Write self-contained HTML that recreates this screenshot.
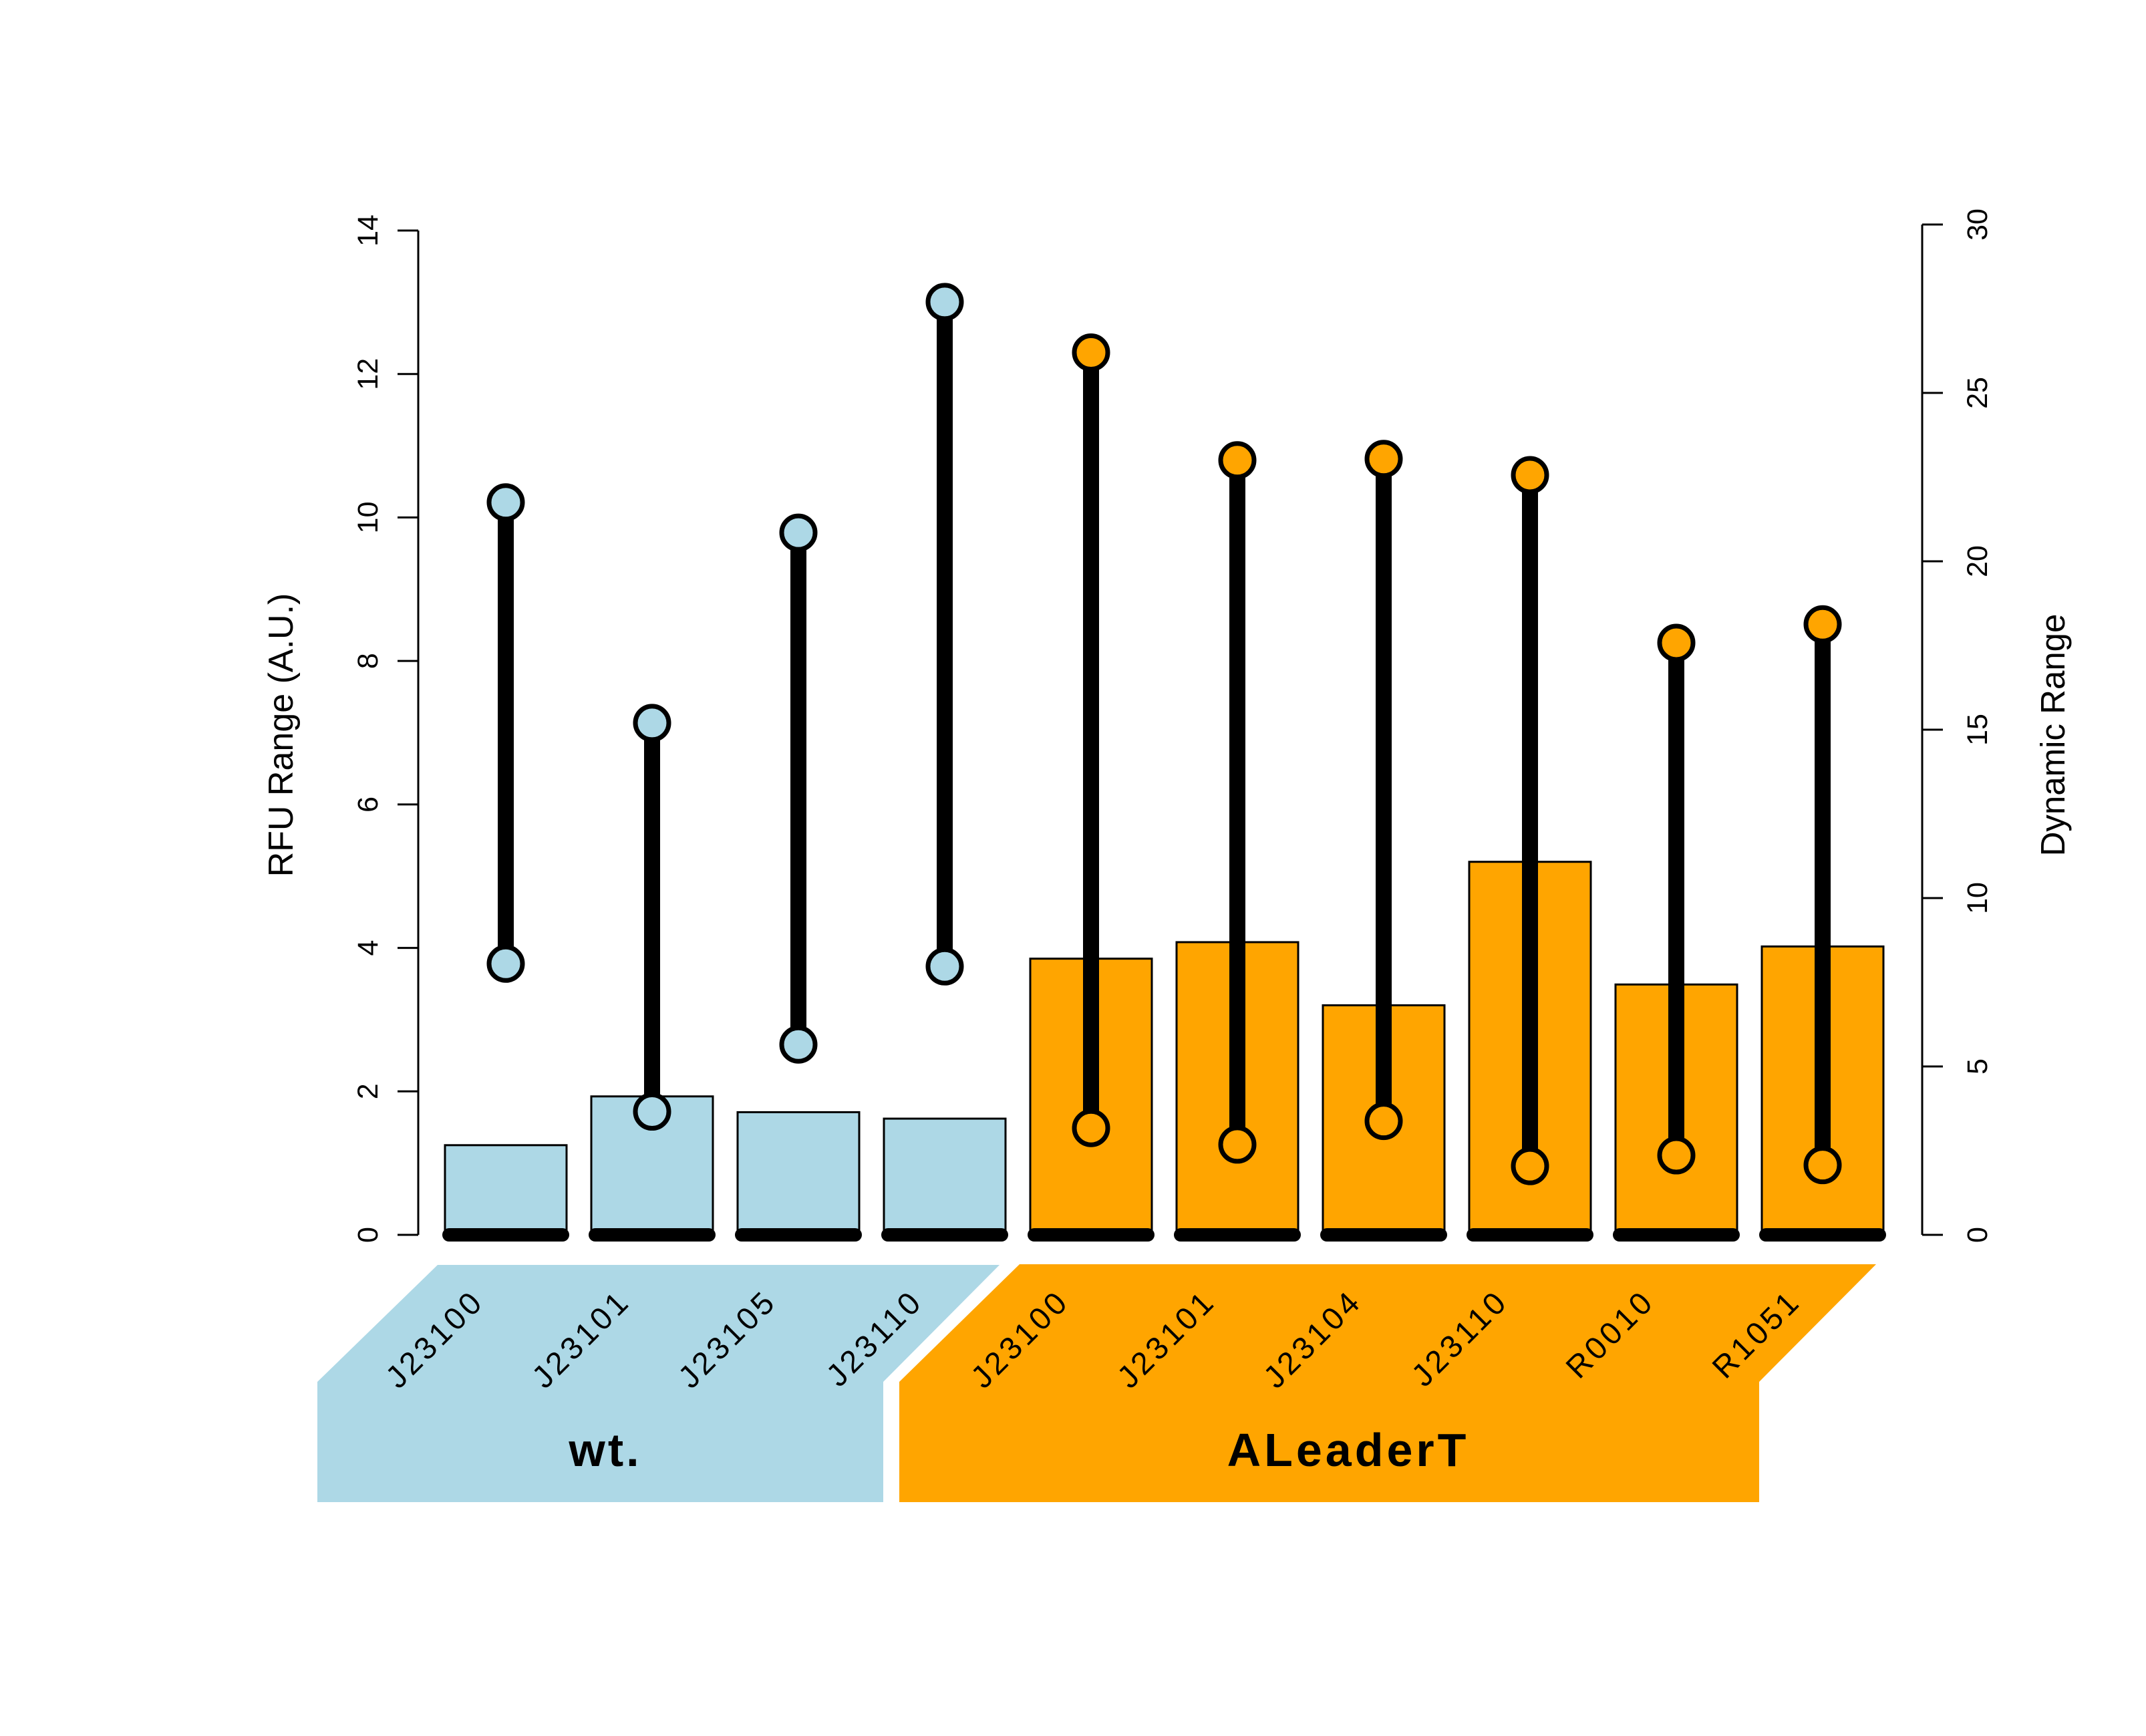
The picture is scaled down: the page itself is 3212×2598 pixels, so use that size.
<!DOCTYPE html>
<html><head><meta charset="utf-8"><style>
html,body{margin:0;padding:0;background:#fff;}
svg{display:block;font-family:"Liberation Sans",Arial,sans-serif;}
</style></head><body>
<svg id="chart" width="3212" height="2598" viewBox="0 0 3212 2598" xmlns="http://www.w3.org/2000/svg">
<rect width="3212" height="2598" fill="#fff"/>
<g id="groups">
  <polygon points="655,1893 1496,1893 1322,2068 1322,2248 475,2248 475,2068" fill="#ADD8E6"/>
  <polygon points="1526,1892 2808,1892 2633,2068 2633,2248 1346,2248 1346,2068" fill="#FFA500"/>
  <text x="906" y="2194" font-size="70" font-weight="bold" text-anchor="middle" letter-spacing="4">wt.</text>
  <text x="2018" y="2194" font-size="70" font-weight="bold" text-anchor="middle" letter-spacing="5">ALeaderT</text>
</g>
<g id="bars"></g>
<g id="ranges"></g>
<g id="axes"></g>
</svg>
<script>
const categories = ["J23100","J23101","J23105","J23110","J23100","J23101","J23104","J23110","R0010","R1051"];
const groups = ["wt","wt","wt","wt","ALeaderT","ALeaderT","ALeaderT","ALeaderT","ALeaderT","ALeaderT"];
const rfuRange = [1.25,1.93,1.71,1.62,3.85,4.08,3.2,5.2,3.49,4.02];
const drHigh = [21.75,15.2,20.85,27.7,26.2,23.0,23.04,22.56,17.58,18.13];
const drLow = [8.05,3.66,5.65,7.97,3.17,2.68,3.38,2.04,2.36,2.07];
const leftTicks = [0,2,4,6,8,10,12,14];
const rightTicks = [0,5,10,15,20,25,30];

const NS = "http://www.w3.org/2000/svg";
const colors = {wt:"#ADD8E6", ALeaderT:"#FFA500"};
function yL(v){ return 1848 - v * (1848-345)/14; }
function yR(v){ return 1848 - v * (1848-336)/30; }
function xLeft(i){ return 666 + i*219; }
const barW = 182;
function mk(tag, attrs, parent){
  const e = document.createElementNS(NS, tag);
  for (const k in attrs) e.setAttribute(k, attrs[k]);
  parent.appendChild(e);
  return e;
}
const gb = document.getElementById('bars');
const gr = document.getElementById('ranges');
const ga = document.getElementById('axes');

categories.forEach((c, i) => {
  const x = xLeft(i), cx = x + barW/2;
  const r = mk('rect', {x:x, y:yL(rfuRange[i]), width:barW, height:1848-yL(rfuRange[i]), fill:colors[groups[i]], stroke:'#000', 'stroke-width':3}, gb);
  
  
  const base = mk('line', {x1:x+6, x2:x+barW-6, y1:1848, y2:1848, stroke:'#000', 'stroke-width':20, 'stroke-linecap':'round'}, gb);
  
  
  const lx = cx - 30, ly = 1950;
  const t = mk('text', {x:lx, y:ly, 'font-size':47, 'text-anchor':'end', transform:'rotate(-45 '+lx+' '+ly+')', 'letter-spacing':5}, gb);
  t.textContent = c;
  
  
  const ln = mk('line', {x1:cx, x2:cx, y1:yR(drLow[i]), y2:yR(drHigh[i]), stroke:'#000', 'stroke-width':24}, gr);
  
  
  const p1 = mk('circle', {cx:cx, cy:yR(drHigh[i]), r:25, fill:colors[groups[i]], stroke:'#000', 'stroke-width':7}, gr);
  
  
  const p2 = mk('circle', {cx:cx, cy:yR(drLow[i]), r:25, fill:colors[groups[i]], stroke:'#000', 'stroke-width':7}, gr);
  
  
});

const la = mk('line', {x1:626, x2:626, y1:yL(0), y2:yL(14), stroke:'#000', 'stroke-width':3}, ga);


leftTicks.forEach(v => {
  const tk = mk('line', {x1:595, x2:626, y1:yL(v), y2:yL(v), stroke:'#000', 'stroke-width':3}, ga);
  
  
  const tl = mk('text', {x:565, y:yL(v), 'font-size':43, 'text-anchor':'middle', transform:'rotate(-90 565 '+yL(v)+')'}, ga);
  tl.textContent = v;
  
  
});
const ra = mk('line', {x1:2877, x2:2877, y1:yR(0), y2:yR(30), stroke:'#000', 'stroke-width':3}, ga);


rightTicks.forEach(v => {
  const tk = mk('line', {x1:2877, x2:2908, y1:yR(v), y2:yR(v), stroke:'#000', 'stroke-width':3}, ga);
  
  
  const tl = mk('text', {x:2974, y:yR(v), 'font-size':43, 'text-anchor':'middle', transform:'rotate(-90 2974 '+yR(v)+')'}, ga);
  tl.textContent = v;
  
  
});
const lt = mk('text', {x:438, y:1100, 'font-size':52, 'text-anchor':'middle', transform:'rotate(-90 438 1100)'}, ga);
lt.textContent = 'RFU Range (A.U.)';


const rt = mk('text', {x:3090, y:1100, 'font-size':51, 'text-anchor':'middle', transform:'rotate(-90 3090 1100)'}, ga);
rt.textContent = 'Dynamic Range';


</script>
</body></html>
